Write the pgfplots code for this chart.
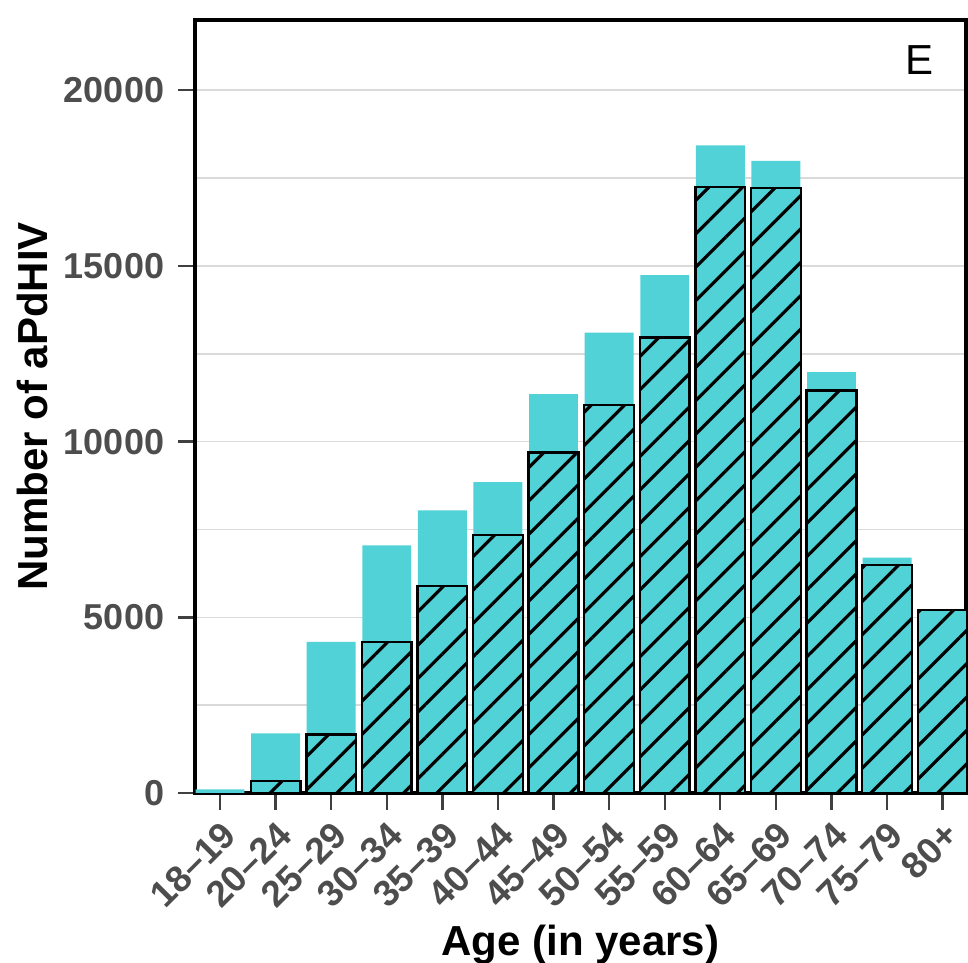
\documentclass[border=0pt]{standalone}
\usepackage{fontspec}
\setmainfont{Liberation Sans}
\usepackage{pgfplots}
\pgfplotsset{compat=1.18}
\usetikzlibrary{patterns.meta}
\definecolor{barcyan}{RGB}{80,210,215}
\definecolor{gridgrey}{RGB}{218,218,218}
\definecolor{ticklab}{RGB}{77,77,77}
\begin{document}
\begin{tikzpicture}
\useasboundingbox (-48.75pt,-42.5pt) rectangle (193.25pt,198.25pt);
\begin{axis}[
  scale only axis,
  width=192.75pt, height=193.25pt,
  at={(0,0)}, anchor=south west,
  xmin=-0.45, xmax=13.42,
  ymin=0, ymax=22000,
  xtick={0,...,13},
  xticklabels={18–19,20–24,25–29,30–34,35–39,40–44,45–49,50–54,55–59,60–64,65–69,70–74,75–79,80+},
  ytick={0,5000,10000,15000,20000},
  minor ytick={2500,7500,12500,17500},
  ymajorgrids, yminorgrids,
  major grid style={gridgrey, line width=0.4pt},
  minor grid style={gridgrey, line width=0.4pt},
  minor tick length=0pt,
  tick pos=left,
  tick align=outside,
  major tick length=4.2pt,
  tick style={line width=0.6pt, color=black!75},
  axis line style={line width=0.8pt},
  scaled y ticks=false,
  /pgf/number format/1000 sep={},
  /pgf/number format/assume math mode=true,
  yticklabel style={font=\bfseries\fontsize{9}{10}\selectfont, text=ticklab},
  xticklabel style={font=\bfseries\fontsize{9.2}{10}\selectfont, text=ticklab, rotate=45, anchor=north east, inner sep=1.5pt},
  xlabel={Age (in years)},
  ylabel={Number of aPdHIV},
  xlabel style={font=\bfseries\fontsize{10.5}{12}\selectfont, yshift=2pt},
  ylabel style={font=\bfseries\fontsize{10.5}{12}\selectfont, yshift=-2.8pt},
]
\addplot[ybar, bar width=0.88, bar shift=0, fill=barcyan, draw=none] coordinates {
  (0,100) (1,1700) (2,4300) (3,7050) (4,8040) (5,8850) (6,11350)
  (7,13100) (8,14740) (9,18430) (10,17990) (11,11980) (12,6700) (13,5210)
};
\addplot[ybar, bar width=0.895, bar shift=0, fill=barcyan, draw=black, line width=0.6pt,
  postaction={pattern={Lines[angle=45, distance=5.9pt, line width=0.8pt]}, pattern color=black}] coordinates {
  (1,340) (2,1670) (3,4300) (4,5890) (5,7340) (6,9690)
  (7,11050) (8,12960) (9,17250) (10,17210) (11,11460) (12,6490) (13,5210)
};
\node[font=\fontsize{10.5}{12}\selectfont] at (rel axis cs:0.94,0.948) {E};
\end{axis}
\end{tikzpicture}
\end{document}
